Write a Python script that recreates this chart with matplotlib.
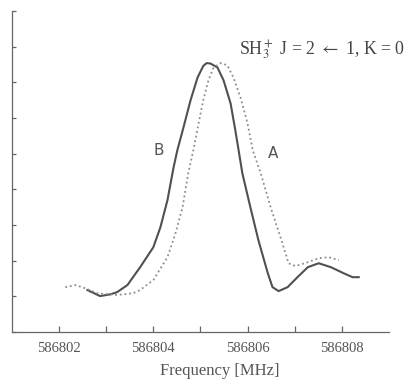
import matplotlib
matplotlib.use("Agg")
import matplotlib.pyplot as plt
import numpy as np

# Trace B (solid) and trace A (dotted)
freq_b = [586802.60, 586802.87, 586803.09, 586803.23, 586803.45, 586803.72, 586804.00,
          586804.15, 586804.30, 586804.43, 586804.51, 586804.64, 586804.79, 586804.94,
          586805.06, 586805.13, 586805.21, 586805.36, 586805.49, 586805.64, 586805.74,
          586805.81, 586805.89, 586806.06, 586806.23, 586806.43, 586806.53, 586806.66,
          586806.85, 586807.06, 586807.28, 586807.51, 586807.77, 586808.04, 586808.23,
          586808.36]
int_b = [1.18, 1.01, 1.06, 1.12, 1.32, 1.82, 2.38,
         2.94, 3.70, 4.62, 5.10, 5.74, 6.50, 7.14,
         7.46, 7.54, 7.53, 7.42, 7.06, 6.41, 5.66,
         5.10, 4.45, 3.50, 2.58, 1.65, 1.26, 1.15,
         1.26, 1.54, 1.82, 1.93, 1.82, 1.65, 1.54,
         1.54]

freq_a = [586802.13, 586802.34, 586802.55, 586802.81, 586803.23, 586803.57, 586803.72,
          586804.00, 586804.30, 586804.47, 586804.62, 586804.74, 586804.85, 586804.96,
          586805.06, 586805.17, 586805.28, 586805.43, 586805.57, 586805.70, 586805.85,
          586806.00, 586806.11, 586806.28, 586806.49, 586806.70, 586806.87, 586807.02,
          586807.28, 586807.51, 586807.72, 586807.94]
int_a = [1.26, 1.32, 1.23, 1.09, 1.04, 1.09, 1.18,
         1.46, 2.10, 2.77, 3.50, 4.45, 5.10, 5.85,
         6.50, 7.06, 7.42, 7.54, 7.48, 7.14, 6.58,
         5.85, 5.10, 4.45, 3.50, 2.66, 1.93, 1.85,
         1.96, 2.07, 2.10, 2.02]

x_ticks = [586802, 586804, 586806, 586808]

fig = plt.figure(figsize=(4.15, 3.8), dpi=100)
ax = fig.add_axes([0.029, 0.126, 0.908, 0.845])

ax.plot(freq_b, int_b, color="#505050", lw=1.5)
ax.plot(freq_a, int_a, color="#8c8c8c", lw=1.3, ls=(0, (1, 1.6)))

ax.set_xlim(586801, 586809)
ax.set_ylim(0, 9)
ax.set_xticks(x_ticks)
ax.set_xticklabels([str(t) for t in x_ticks], family="Liberation Serif",
                   fontsize=10.5, color="#555555")
ax.set_xticks(np.arange(586803, 586809, 2), minor=True)
ax.set_yticks(range(0, 10))
ax.set_yticklabels([])
ax.tick_params(axis="x", which="both", direction="in", length=4, width=0.9,
               color="#666666", pad=7)
ax.tick_params(axis="y", direction="in", length=3, width=0.9, color="#666666")

for s in ["top", "right"]:
    ax.spines[s].set_visible(False)
for s in ["left", "bottom"]:
    ax.spines[s].set_color("#666666")
    ax.spines[s].set_linewidth(0.9)

ax.set_xlabel("Frequency [MHz]", family="Liberation Serif", fontsize=12,
              color="#555555")
ax.xaxis.set_label_coords(0.55, -0.095)

fig.text(0.977, 0.868, r"SH$_3^+$ J = 2 $\leftarrow$ 1, K = 0", ha="right",
         va="center", family="Liberation Serif", fontsize=12.9, color="#444444",
         math_fontfamily="stix")
ax.text(586804.0, 5.1, "B", fontsize=11, color="#555555", va="center")
ax.text(586806.43, 5.0, "A", fontsize=11, color="#555555", va="center")

fig.savefig("out.png", dpi=100)
